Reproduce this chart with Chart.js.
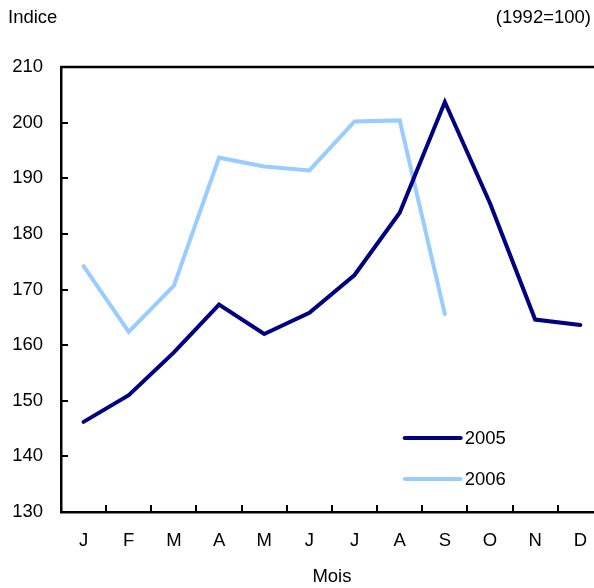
<!DOCTYPE html>
<html>
<head>
<meta charset="utf-8">
<script src="https://cdn.jsdelivr.net/npm/chart.js@4/dist/chart.umd.min.js"></script>
<style>
  html, body { margin: 0; padding: 0; background: #fff; overflow: hidden; }
  #wrap { width: 605px; height: 588px; }
</style>
</head>
<body>
<div id="wrap"><canvas id="chart"></canvas></div>
<script>
// Monthly index (1992=100)
const months = ['J', 'F', 'M', 'A', 'M', 'J', 'J', 'A', 'S', 'O', 'N', 'D'];
const values2005 = [146.2, 151.0, 158.7, 167.3, 162.0, 165.8, 172.6, 183.8, 203.7, 185.5, 164.6, 163.6];
const values2006 = [174.2, 162.4, 170.7, 193.7, 192.1, 191.4, 200.2, 200.4, 165.6, null, null, null];
const seriesLabels = ['2005', '2006'];
const yTicks = [130, 140, 150, 160, 170, 180, 190, 200, 210];

const FONT = "'Liberation Sans', Arial, Helvetica, sans-serif";
const FONT_SIZE = 18.5;
const COLORS = { dark: '#000080', light: '#99ccff' };

Chart.defaults.font.family = FONT;
Chart.defaults.font.size = FONT_SIZE;
Chart.defaults.color = '#000';

// Frame, inward ticks, header texts and the legend box inside the plot
const decorations = {
    id: 'decorations',
    afterDraw(chart) {
        const { ctx, chartArea: a, scales: { x, y } } = chart;
        ctx.save();
        ctx.strokeStyle = '#000';
        ctx.lineWidth = 2.5;
        ctx.beginPath();
        ctx.moveTo(a.left, a.top);
        ctx.lineTo(a.right, a.top);
        ctx.lineTo(a.right, a.bottom);
        ctx.stroke();

        ctx.lineWidth = 2;
        ctx.beginPath();
        yTicks.slice(1, -1).forEach(v => {
            const py = Math.round(y.getPixelForValue(v));
            ctx.moveTo(a.left, py);
            ctx.lineTo(a.left + 7, py);
        });
        for (let i = 1; i < months.length; i++) {
            const px = Math.round((x.getPixelForTick(i - 1) + x.getPixelForTick(i)) / 2);
            ctx.moveTo(px, a.bottom);
            ctx.lineTo(px, a.bottom - 7);
        }
        ctx.stroke();

        ctx.fillStyle = '#000';
        ctx.font = `${FONT_SIZE}px ${FONT}`;
        ctx.textBaseline = 'middle';
        ctx.textAlign = 'left';
        ctx.fillText('Indice', 8, 18);
        ctx.textAlign = 'right';
        ctx.fillText('(1992=100)', 591, 18);

        // legend
        const lx = x.getPixelForValue(7) + 5;
        chart.data.datasets.forEach((ds, i) => {
            const ly = 438 + i * 41;
            ctx.strokeStyle = ds.borderColor;
            ctx.lineWidth = 4;
            ctx.lineCap = 'round';
            ctx.beginPath();
            ctx.moveTo(lx, ly);
            ctx.lineTo(lx + 56, ly);
            ctx.stroke();
            ctx.textAlign = 'left';
            ctx.fillText(ds.label, lx + 60, ly + 1);
        });
        ctx.restore();
    }
};

new Chart(document.getElementById('chart'), {
    type: 'line',
    data: {
        labels: months,
        datasets: [
            {
                label: seriesLabels[0],
                data: values2005,
                borderColor: COLORS.dark,
                borderWidth: 4,
                pointRadius: 0,
                borderCapStyle: 'round',
                tension: 0,
                fill: false
            },
            {
                label: seriesLabels[1],
                data: values2006,
                borderColor: COLORS.light,
                borderWidth: 4,
                pointRadius: 0,
                borderCapStyle: 'round',
                tension: 0,
                fill: false,
                spanGaps: false
            }
        ]
    },
    options: {
        responsive: true,
        maintainAspectRatio: false,
        animation: false,
        layout: { padding: { top: 67, right: 0, left: 0, bottom: 0 } },
        scales: {
            x: {
                type: 'category',
                offset: true,
                grid: { display: false, drawTicks: false },
                border: { display: true, color: '#000', width: 2.5 },
                ticks: { padding: 18, maxRotation: 0, autoSkip: false, color: '#000' },
                title: { display: true, text: 'Mois', padding: { top: 12, bottom: 0 }, color: '#000' },
                afterFit: s => { s.height = 76; }
            },
            y: {
                min: 130,
                max: 210,
                grid: { display: false, drawTicks: false },
                border: { display: true, color: '#000', width: 2.5 },
                ticks: { stepSize: 10, padding: 18, color: '#000' },
                afterFit: s => { s.width = 61; }
            }
        },
        plugins: {
            legend: { display: false },
            tooltip: { enabled: false }
        }
    },
    plugins: [decorations]
});
</script>
</body>
</html>
